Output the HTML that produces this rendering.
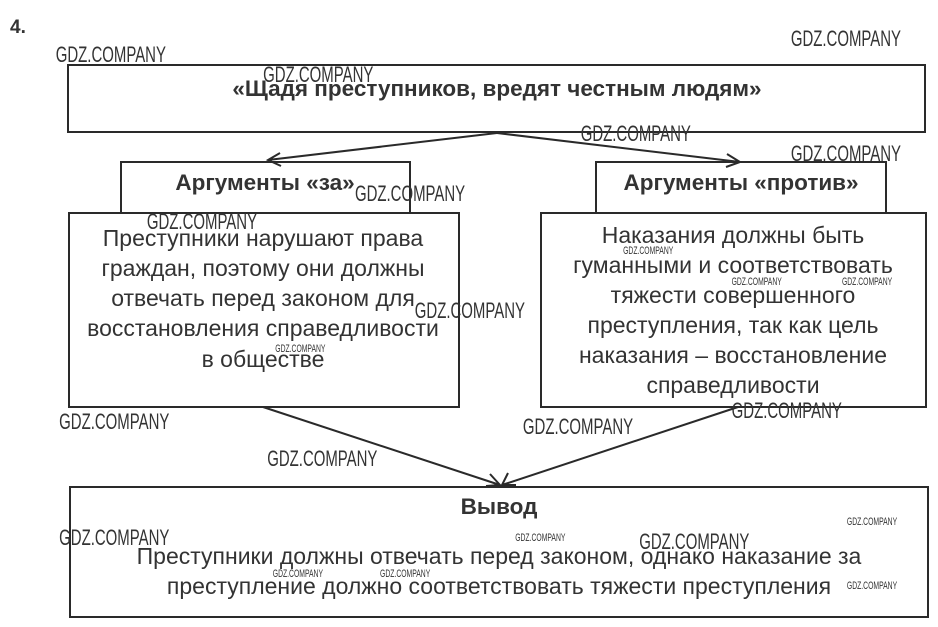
<!DOCTYPE html>
<html><head><meta charset="utf-8"><style>
body{margin:0;background:#fff;}
svg{display:block}
.t{font-family:"Liberation Sans",sans-serif;fill:#333}
.w{font-family:"Liberation Sans",sans-serif;fill:#333;font-size:22px}
.ws{font-family:"Liberation Sans",sans-serif;fill:#333;font-size:11px}
</style></head><body>
<svg width="938" height="627" viewBox="0 0 938 627" xmlns="http://www.w3.org/2000/svg">
<g fill="none" stroke="#2a2a2a" stroke-width="2">
<rect x="68" y="65" width="857" height="67"/>
<rect x="121" y="162" width="289" height="51"/>
<rect x="69" y="213" width="390" height="194"/>
<rect x="596" y="162" width="290" height="51"/>
<rect x="541" y="213" width="385" height="194"/>
<rect x="70" y="487" width="858" height="130"/>
<path d="M497 133 L268 160 M280 153 L268 160 L281 166"/>
<path d="M497 133 L740 162 M727 154 L740 162 L726 167"/>
<path d="M263 407 L500 485 M490 474 L500 485 L486 486"/>
<path d="M738 407 L502 485 M508 473 L502 485 L516 485"/>
</g>
<text class="t" x="10" y="33" font-size="19" font-weight="bold">4.</text>
<text class="t" x="497" y="96" font-size="22.5" font-weight="bold" text-anchor="middle">«Щадя преступников, вредят честным людям»</text>
<text class="t" x="265" y="190" font-size="22.5" font-weight="bold" text-anchor="middle">Аргументы «за»</text>
<text class="t" x="741" y="190" font-size="22.5" font-weight="bold" text-anchor="middle">Аргументы «против»</text>
<g class="t" font-size="23" text-anchor="middle">
<text x="263" y="246">Преступники нарушают права</text>
<text x="263" y="276">граждан, поэтому они должны</text>
<text x="263" y="306">отвечать перед законом для</text>
<text x="263" y="336">восстановления справедливости</text>
<text x="263" y="367">в обществе</text>
<text x="733" y="243">Наказания должны быть</text>
<text x="733" y="273">гуманными и соответствовать</text>
<text x="733" y="303">тяжести совершенного</text>
<text x="733" y="333">преступления, так как цель</text>
<text x="733" y="363">наказания – восстановление</text>
<text x="733" y="393">справедливости</text>
<text x="499" y="564">Преступники должны отвечать перед законом, однако наказание за</text>
<text x="499" y="594">преступление должно соответствовать тяжести преступления</text>
</g>
<text class="t" x="499" y="514" font-size="22.5" font-weight="bold" text-anchor="middle">Вывод</text>
<g class="w" transform="scale(0.68,1)">
<text x="82" y="62">GDZ.COMPANY</text>
<text x="1163" y="46">GDZ.COMPANY</text>
<text x="387" y="82">GDZ.COMPANY</text>
<text x="854" y="141">GDZ.COMPANY</text>
<text x="1163" y="161">GDZ.COMPANY</text>
<text x="522" y="201">GDZ.COMPANY</text>
<text x="216" y="229">GDZ.COMPANY</text>
<text x="610" y="318">GDZ.COMPANY</text>
<text x="87" y="429">GDZ.COMPANY</text>
<text x="1076" y="418">GDZ.COMPANY</text>
<text x="769" y="434">GDZ.COMPANY</text>
<text x="393" y="466">GDZ.COMPANY</text>
<text x="87" y="545">GDZ.COMPANY</text>
<text x="940" y="549">GDZ.COMPANY</text>
</g>
<g class="ws" transform="scale(0.62,1)">
<text x="1005" y="254">GDZ.COMPANY</text>
<text x="1180" y="285">GDZ.COMPANY</text>
<text x="1358" y="285">GDZ.COMPANY</text>
<text x="444" y="352">GDZ.COMPANY</text>
<text x="1366" y="525">GDZ.COMPANY</text>
<text x="831" y="541">GDZ.COMPANY</text>
<text x="440" y="577">GDZ.COMPANY</text>
<text x="613" y="577">GDZ.COMPANY</text>
<text x="1366" y="589">GDZ.COMPANY</text>
</g>
</svg>
</body></html>
